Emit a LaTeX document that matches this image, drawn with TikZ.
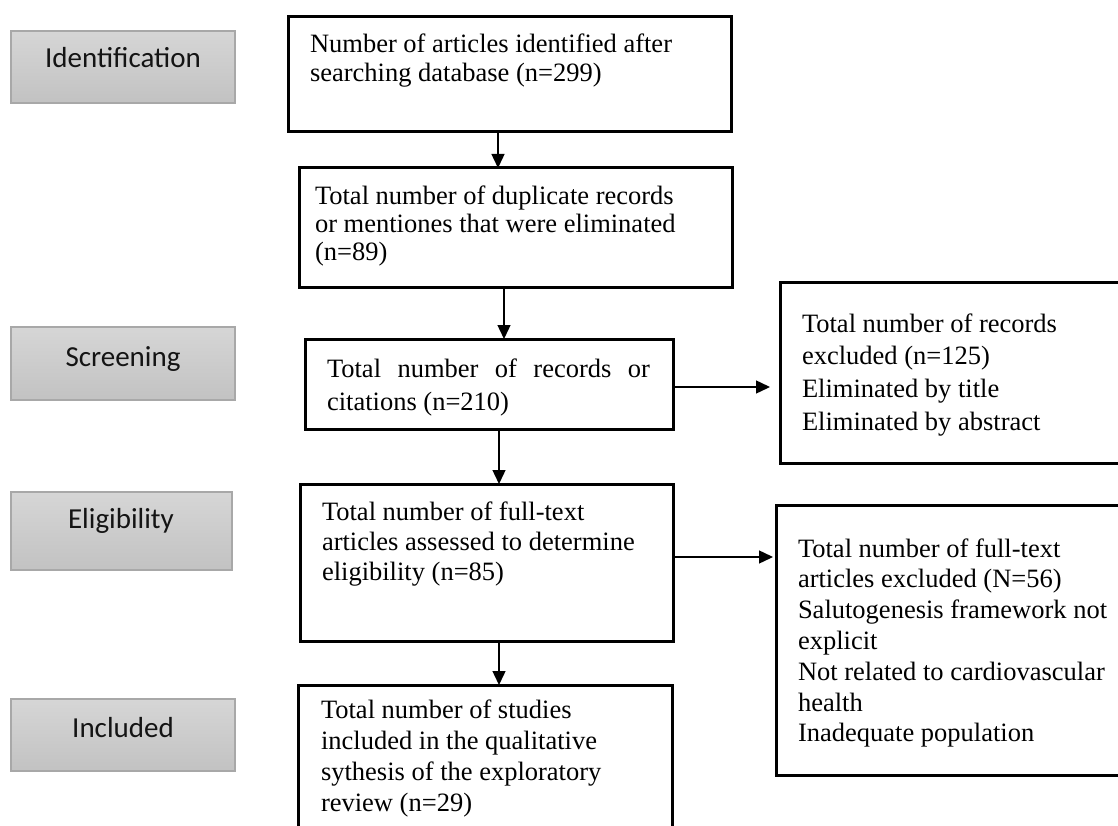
\documentclass[tikz,border=0pt]{standalone}
\usepackage{fontspec}
\setmainfont{Liberation Serif}
\newfontfamily\stagefont{Carlito}
\usetikzlibrary{arrows.meta}
\newcommand\boxlines[2]{\parbox[t]{440pt}{\raggedright\fontsize{26.5}{#1}\selectfont #2}}
\begin{document}
\begin{tikzpicture}[x=1pt,y=-1pt,
  mainbox/.style={draw=black,line width=3pt,rectangle,inner sep=0pt,outer sep=0pt,anchor=north west},
  stagebox/.style={draw={rgb,255:red,168;green,168;blue,168},line width=1.2pt,
    top color={rgb,255:red,214;green,214;blue,214},bottom color={rgb,255:red,194;green,194;blue,194},
    rectangle,inner sep=0pt,outer sep=0pt,anchor=north west},
  stagetxt/.style={font=\stagefont\fontsize{29}{34}\selectfont,text={rgb,255:red,20;green,20;blue,20},anchor=base,inner sep=0pt},
  boxtxt/.style={anchor=base west,inner sep=0pt,outer sep=0pt},
  arr/.style={line width=1.4pt,-{Triangle[length=14pt,width=13pt]}}
]
\useasboundingbox (0,0) rectangle (1118,826);
\clip (0,0) rectangle (1118,826);
\fill[white] (0,0) rectangle (1118,826);

% stage labels
\node[stagebox,minimum width=224pt,minimum height=72pt] (sid) at (11,31) {};
\node[stagetxt] (tid) at (123,68) {Identification};
\node[stagebox,minimum width=224pt,minimum height=73pt] (ssc) at (11,327) {};
\node[stagetxt] (tsc) at (123,366) {Screening};
\node[stagebox,minimum width=221pt,minimum height=78pt] (sel) at (11,492) {};
\node[stagetxt] (tel) at (121,528) {Eligibility};
\node[stagebox,minimum width=224pt,minimum height=72pt] (sin) at (11,699) {};
\node[stagetxt] (tin) at (123,737) {Included};

% main boxes
\node[mainbox,minimum width=443pt,minimum height=115pt] (b1) at (288,17) {};
\node[boxtxt] (t1) at (310,53) {\boxlines{29}{Number of articles identified after\\searching database (n=299)}};

\node[mainbox,minimum width=433pt,minimum height=119pt] (b2) at (299,168) {};
\node[boxtxt] (t2) at (315,205) {\boxlines{27.5}{Total number of duplicate records\\or mentiones that were eliminated\\(n=89)}};

\node[mainbox,minimum width=368pt,minimum height=90pt] (b3) at (305,339) {};
\node[boxtxt] (t3) at (327,377) {\boxlines{33}{\makebox[323pt][s]{Total number of records or}\\citations (n=210)}};

\node[mainbox,minimum width=373pt,minimum height=157pt] (b4) at (300,484) {};
\node[boxtxt] (t4) at (322,520) {\boxlines{30}{Total number of full-text\\articles assessed to determine\\eligibility (n=85)}};

\node[mainbox,minimum width=374pt,minimum height=160pt] (b5) at (298,685) {};
\node[boxtxt] (t5) at (321,718) {\boxlines{31}{Total number of studies\\included in the qualitative\\sythesis of the exploratory\\review (n=29)}};

% right boxes
\node[mainbox,minimum width=360pt,minimum height=181pt] (ra) at (780,282) {};
\node[boxtxt] (ta) at (802,332) {\boxlines{32.7}{Total number of records\\excluded (n=125)\\Eliminated by title\\Eliminated by abstract}};

\node[mainbox,minimum width=364pt,minimum height=270pt] (rb) at (776,505) {};
\node[boxtxt] (tb) at (798,557) {\boxlines{30.8}{Total number of full-text\\articles excluded (N=56)\\Salutogenesis framework not\\explicit\\Not related to cardiovascular\\health\\Inadequate population}};

% connector guides
\coordinate (x1) at (498,0);
\coordinate (x2) at (504,0);
\coordinate (x3) at (499,0);
\coordinate (ya) at (0,387);
\coordinate (yb) at (0,557);

\draw[arr] (b1.south -| x1) -- (b2.north -| x1);
\draw[arr] (b2.south -| x2) -- (b3.north -| x2);
\draw[arr] (b3.south -| x3) -- (b4.north -| x3);
\draw[arr] (b4.south -| x3) -- (b5.north -| x3);
\draw[arr,shorten >=10pt] (b3.east |- ya) -- (ra.west |- ya);
\draw[arr,shorten >=3pt] (b4.east |- yb) -- (rb.west |- yb);
\end{tikzpicture}
\end{document}
